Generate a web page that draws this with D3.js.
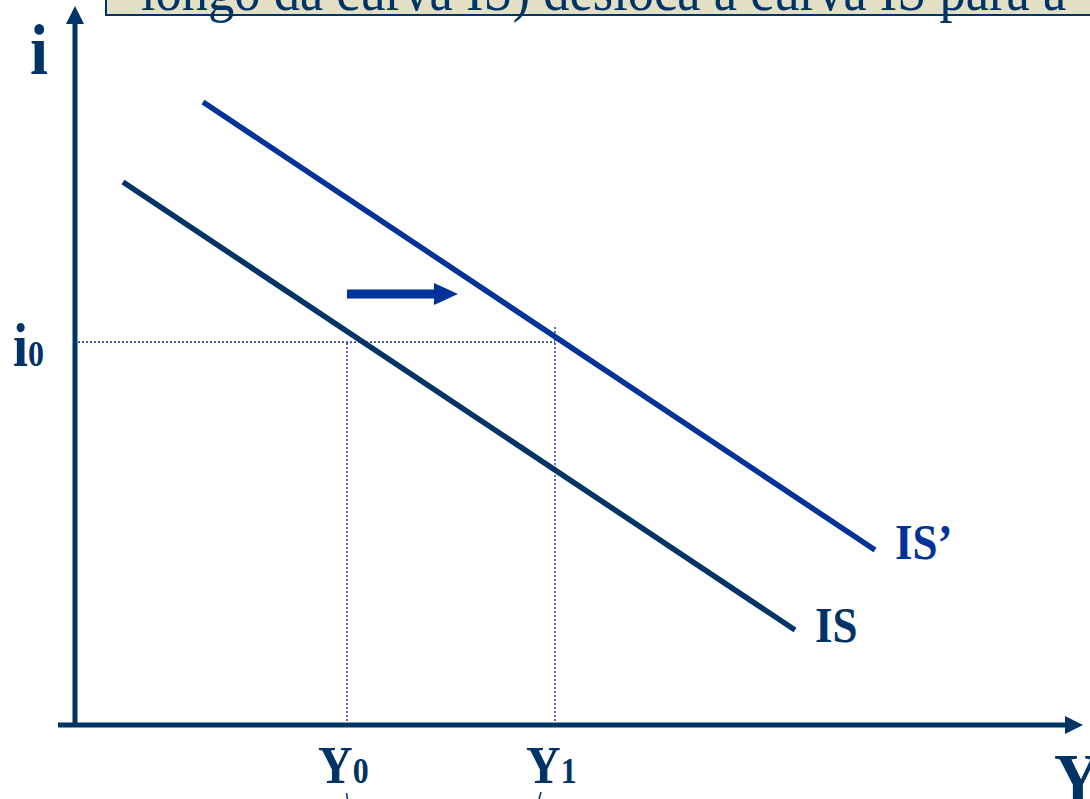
<!DOCTYPE html>
<html>
<head>
<meta charset="utf-8">
<script src="https://cdn.jsdelivr.net/npm/d3@7"></script>
<style>
html,body{margin:0;padding:0;background:#fff;overflow:hidden;}
svg{display:block;}
</style>
</head>
<body>
<svg id="chart" width="1090" height="799"></svg>
<script>
// ---- data (abstract units: x = output Y, y = interest rate i) ----
const titleText = "longo da curva IS) desloca a curva IS para a";
const curveIS      = [{x:0.48, y:7.757}, {x:7.20, y:1.357}];
const curveISprime = [{x:1.28, y:8.900}, {x:8.00, y:2.500}];
const i0 = 5.47;
const Y0 = 2.72;
const Y1 = 4.80;
const Y1top = 5.70;
const shiftArrow = [{x:2.72, y:6.157}, {x:3.83, y:6.157}];
const curveLabels = [
  {name:"IS",  x:7.40, y:1.19, color:"#003366"},
  {name:"IS\u2019", x:8.20, y:2.37, color:"#003399"}
];
const tickLabels = [{base:"Y", sub:"0", x:Y0}, {base:"Y", sub:"1", x:Y1}];

const NAVY = "#003366", BLUE = "#003399", DOT = "#2a4db0";
const svg = d3.select("#chart");
const x = d3.scaleLinear().domain([0,10]).range([75,1075]);
const y = d3.scaleLinear().domain([0,10]).range([725,25]);
const line = d3.line().x(d => x(d.x)).y(d => y(d.y));
const serif = "'Liberation Serif','Times New Roman',serif";

// title box (cut off at top)
svg.append("rect").attr("x",106).attr("y",-40).attr("width",1010).attr("height",55)
  .attr("fill","#E2DFC5").attr("stroke",NAVY).attr("stroke-width",2);
svg.append("text").attr("x",141).attr("y",10)
  .attr("font-family",serif).attr("font-size",52.5).attr("fill",NAVY)
  .attr("transform","translate(141,10) scale(1,1.12) translate(-141,-10)")
  .text(titleText);

// dotted guide lines
const g = svg.append("g").attr("stroke",DOT).attr("stroke-width",1.6).attr("stroke-dasharray","2,2").attr("fill","none");
g.append("line").attr("x1",x(0)+3).attr("x2",x(Y1)).attr("y1",y(i0)).attr("y2",y(i0));
g.append("line").attr("x1",x(Y0)).attr("x2",x(Y0)).attr("y1",y(0)).attr("y2",y(i0));
g.append("line").attr("x1",x(Y1)).attr("x2",x(Y1)).attr("y1",y(0)).attr("y2",y(Y1top));

// curves
svg.append("path").datum(curveIS).attr("d",line).attr("stroke",NAVY).attr("stroke-width",5.5).attr("fill","none");
svg.append("path").datum(curveISprime).attr("d",line).attr("stroke",BLUE).attr("stroke-width",5.5).attr("fill","none");

// shift arrow
const ax0 = x(shiftArrow[0].x), ax1 = x(shiftArrow[1].x), ay = y(shiftArrow[0].y);
svg.append("line").attr("x1",ax0).attr("x2",ax1-22).attr("y1",ay).attr("y2",ay).attr("stroke",BLUE).attr("stroke-width",9);
svg.append("path").attr("d",`M${ax1},${ay} L${ax1-24},${ay-11} L${ax1-24},${ay+11} Z`).attr("fill",BLUE);

// axes
svg.append("line").attr("x1",x(0)).attr("x2",x(0)).attr("y1",y(0)+2).attr("y2",22).attr("stroke",NAVY).attr("stroke-width",5);
svg.append("path").attr("d",`M${x(0)},6 L${x(0)-9},24 L${x(0)+9},24 Z`).attr("fill",NAVY);
svg.append("line").attr("x1",58).attr("x2",1068).attr("y1",y(0)).attr("y2",y(0)).attr("stroke",NAVY).attr("stroke-width",5);
svg.append("path").attr("d",`M1083,${y(0)} L1065,${y(0)-9} L1065,${y(0)+9} Z`).attr("fill",NAVY);

// helper for stretched labels
function label(px, py, parts, color){
  const t = svg.append("text").attr("x",px).attr("y",py)
    .attr("font-family",serif).attr("font-weight","bold").attr("fill",color)
    .attr("transform",`translate(${px},${py}) scale(1,1.12) translate(${-px},${-py})`);
  parts.forEach(p => t.append("tspan").attr("font-size",p.size).text(p.text));
  return t;
}
label(30, 74, [{text:"i", size:65}], NAVY);
label(1054, 803, [{text:"Y", size:65}], NAVY);
label(13, 366, [{text:"i", size:54},{text:"0", size:32}], NAVY);
tickLabels.forEach(d => label(x(d.x)-29, 783, [{text:d.base,size:48},{text:d.sub,size:32}], NAVY));
curveLabels.forEach(d => label(x(d.x), y(d.y), [{text:d.name,size:45}], d.color));

// small marks at the bottom edge (fragments of cut-off content)
svg.append("path").attr("d","M346.5,793 L347.5,799").attr("stroke",NAVY).attr("stroke-width",1.5);
svg.append("path").attr("d","M541,792 L539,799").attr("stroke",NAVY).attr("stroke-width",1.5);
</script>
</body>
</html>
